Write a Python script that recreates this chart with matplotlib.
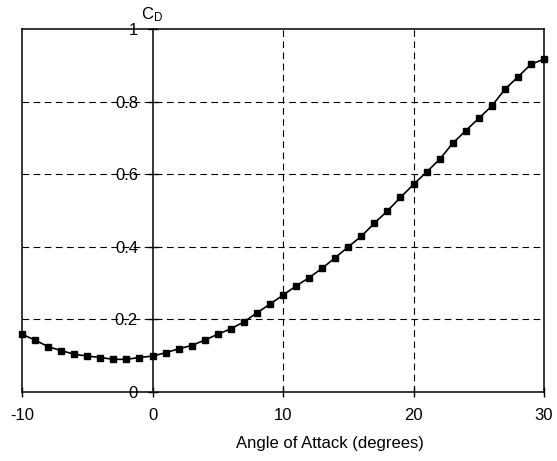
import matplotlib
matplotlib.use("Agg")
import matplotlib.pyplot as plt

plt.rcParams["font.family"] = ["Liberation Sans", "DejaVu Sans"]
plt.rcParams["mathtext.fontset"] = "custom"
plt.rcParams["mathtext.rm"] = "Liberation Sans"
plt.rcParams["mathtext.it"] = "Liberation Sans"
plt.rcParams["axes.unicode_minus"] = False

alpha = list(range(-10, 31))
cd = [0.159, 0.143, 0.125, 0.114, 0.104, 0.099, 0.095, 0.090, 0.090, 0.095,
      0.099, 0.108, 0.119, 0.128, 0.143, 0.159, 0.174, 0.193, 0.218, 0.242,
      0.267, 0.292, 0.315, 0.341, 0.370, 0.400, 0.429, 0.465, 0.499, 0.536,
      0.572, 0.606, 0.641, 0.685, 0.720, 0.754, 0.788, 0.834, 0.868, 0.903,
      0.917]
xticks = [-10, 0, 10, 20, 30]
yticks = [0, 0.2, 0.4, 0.6, 0.8, 1]
ytick_labels = ["0", "0.2", "0.4", "0.6", "0.8", "1"]

fig = plt.figure(figsize=(5.57, 4.61), dpi=100)
ax = fig.add_axes([0.0395, 0.1497, 0.9372, 0.7873])

ax.plot(alpha, cd, color="black", linewidth=1.2, marker="s",
        markersize=4.3, clip_on=False, zorder=5)

ax.set_xlim(-10, 30)
ax.set_ylim(0, 1)

for sp in ax.spines.values():
    sp.set_linewidth(1.1)
ax.spines["left"].set_position(("data", 0))
ax.axvline(-10, color="black", linewidth=1.1, clip_on=False, zorder=6)

ax.set_xticks(xticks)
ax.set_yticks(yticks)
ax.set_yticklabels(ytick_labels)
ax.tick_params(axis="both", direction="inout", length=7, width=1.0,
               labelsize=12, colors="black")
ax.tick_params(axis="x", pad=8)
ax.tick_params(axis="y", pad=7)

for v in [10, 20]:
    ax.axvline(v, color="black", linewidth=0.8, linestyle=(0, (6, 4)), zorder=1)
for v in [0.2, 0.4, 0.6, 0.8]:
    ax.axhline(v, color="black", linewidth=0.8, linestyle=(0, (6, 4)), zorder=1)

fig.text(330 / 557, 1 - 443 / 461, "Angle of Attack (degrees)",
         ha="center", va="center", fontsize=12)
fig.text(141 / 557, 1 - 15 / 461, r"C$_\mathrm{D}$",
         ha="left", va="center", fontsize=12)

fig.savefig("out.png", dpi=100)
